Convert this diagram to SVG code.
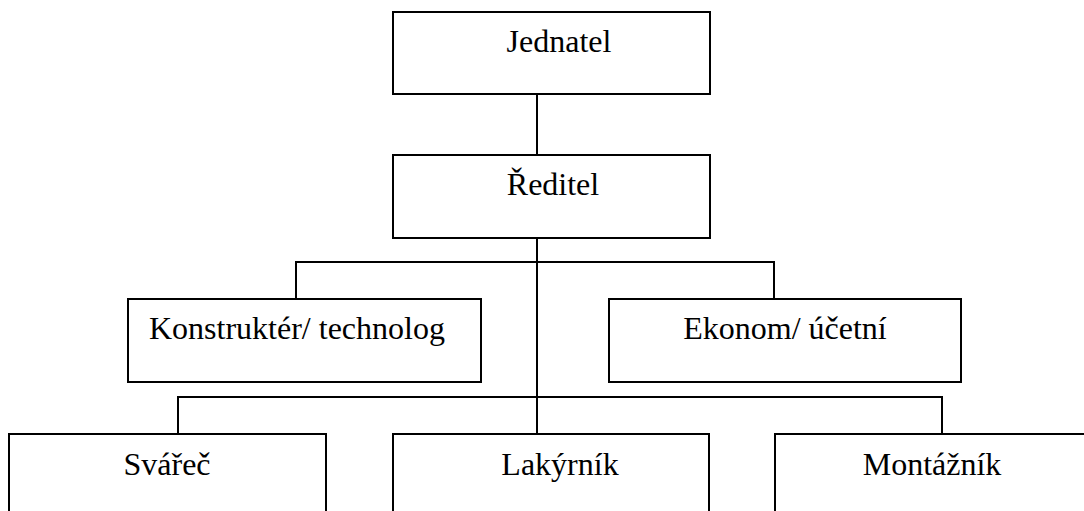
<svg xmlns="http://www.w3.org/2000/svg" width="1084" height="511" viewBox="0 0 1084 511">
<style>
.box{fill:#fff;stroke:#000;stroke-width:2}
.lbl{font-family:"Liberation Serif","Times New Roman",serif;font-size:32px;fill:#000}
.c{text-anchor:middle}
.con line{stroke:#000;stroke-width:2}
</style>
<rect width="1084" height="511" fill="#fff"/>
<g class="con" id="connectors">
<line x1="537" y1="94" x2="537" y2="155"/>
<line x1="537" y1="238" x2="537" y2="434"/>
<line x1="296" y1="262" x2="774" y2="262"/>
<line x1="296" y1="261" x2="296" y2="299"/>
<line x1="774" y1="261" x2="774" y2="299"/>
<line x1="178" y1="397" x2="942" y2="397"/>
<line x1="178" y1="396" x2="178" y2="434"/>
<line x1="942" y1="396" x2="942" y2="434"/>
</g>
<g id="jednatel"><rect class="box" x="393" y="12" width="317" height="82"/><text class="lbl c" x="559" y="52">Jednatel</text></g>
<g id="reditel"><rect class="box" x="393" y="155" width="317" height="83"/><text class="lbl c" x="553" y="195">Ředitel</text></g>
<g id="konstrukter"><rect class="box" x="128" y="299" width="353" height="83"/><text class="lbl" x="149" y="339">Konstruktér/ technolog</text></g>
<g id="ekonom"><rect class="box" x="609" y="299" width="352" height="83"/><text class="lbl c" x="785" y="339">Ekonom/ účetní</text></g>
<g id="svarec"><rect class="box" x="9" y="434" width="317" height="90"/><text class="lbl c" x="167" y="475">Svářeč</text></g>
<g id="lakyrnik"><rect class="box" x="393" y="434" width="316" height="90"/><text class="lbl c" x="560" y="475">Lakýrník</text></g>
<g id="montaznik"><rect class="box" x="775" y="434" width="320" height="90"/><text class="lbl c" x="932" y="475">Montážník</text></g>
</svg>
